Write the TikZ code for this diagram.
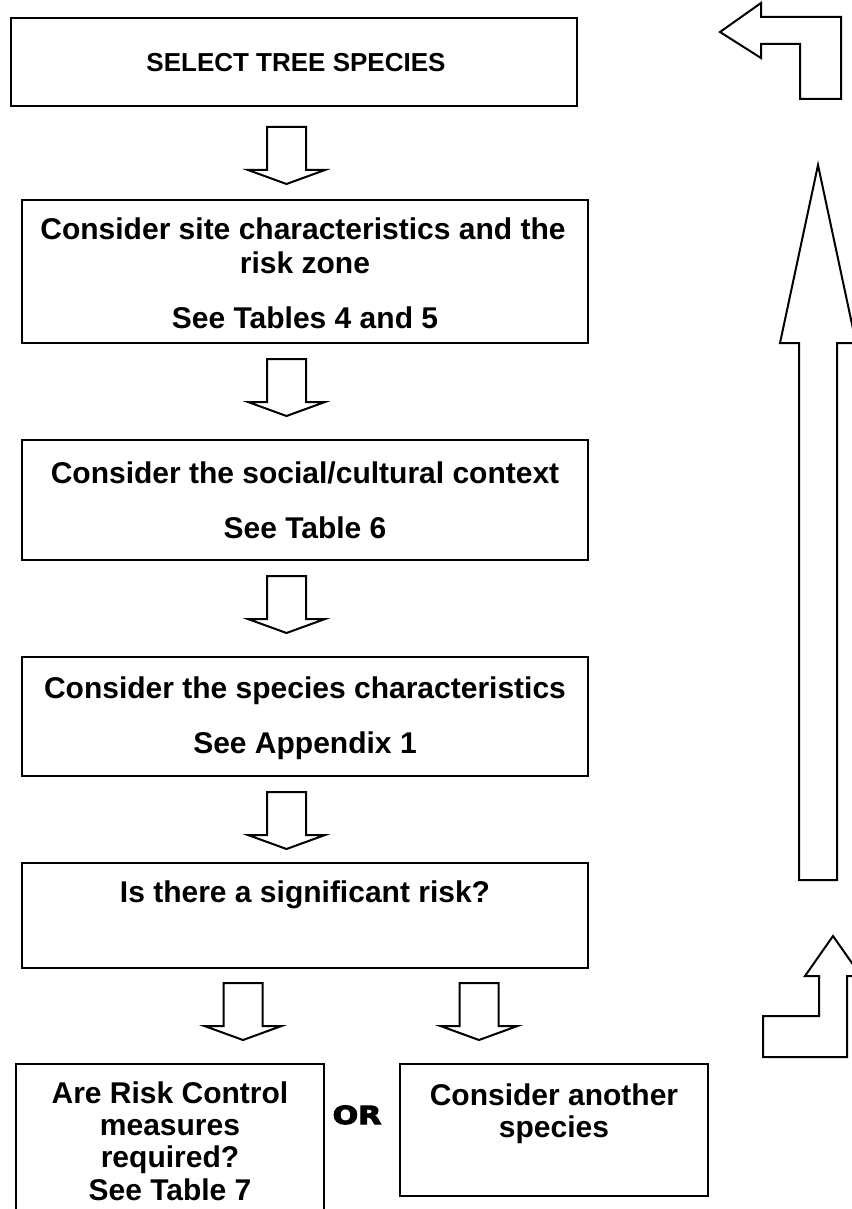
\documentclass[tikz,border=0pt]{standalone}
\usepackage{fontspec}
\setmainfont{Liberation Sans}
\newfontfamily\orfont[FakeBold=4]{DejaVu Sans Bold}
\begin{document}
\begin{tikzpicture}[x=1pt,y=-1pt,line join=miter,
  box/.style={draw=black,line width=2pt,fill=none},
  txt/.style={inner sep=0pt,font=\fontsize{30}{34}\selectfont\bfseries,text height=21.5pt,text depth=0pt,anchor=center},
  blockarrow/.style={draw=black,line width=2pt,fill=white},
  downarrow/.pic={\draw[blockarrow] (-19.5,0) -- (19.5,0) -- (19.5,43) -- (38.5,43) -- (0,57) -- (-38.5,43) -- (-19.5,43) -- cycle;}
]
\useasboundingbox (0,0) rectangle (851,1209);

% boxes
\draw[box] (11,18) rectangle (577,106);
\node[txt,font=\fontsize{26}{30}\selectfont\bfseries,text height=18.6pt] (b1) at (296,62) {SELECT TREE SPECIES};

\draw[box] (22,200) rectangle (588,343);
\node[txt] (t2a) at (303,229) {Consider site characteristics and the};
\node[txt] (t2b) at (305,263) {risk zone};
\node[txt] (t2c) at (305,318) {See Tables 4 and 5};

\draw[box] (22,440) rectangle (588,560);
\node[txt] (t3a) at (305,473) {Consider the social/cultural context};
\node[txt] (t3b) at (305,528) {See Table 6};

\draw[box] (22,657) rectangle (588,776);
\node[txt] (t4a) at (305,688) {Consider the species characteristics};
\node[txt] (t4b) at (305,743) {See Appendix 1};

\draw[box] (22,863) rectangle (588,968);
\node[txt] (t5a) at (305,892) {Is there a significant risk?};

\draw[box] (16,1214) -- (16,1064) -- (324,1064) -- (324,1214);
\node[txt] (t6a) at (170,1093) {Are Risk Control};
\node[txt] (t6b) at (170,1125) {measures};
\node[txt] (t6c) at (170,1157) {required?};
\node[txt] (t6d) at (170,1190) {See Table 7};

\draw[box] (400,1064) rectangle (708,1196);
\node[txt] (t7a) at (554,1095) {Consider another};
\node[txt] (t7b) at (554,1127) {species};

\node[inner sep=0pt,font=\fontsize{25}{28}\orfont,text height=18pt,text depth=0pt,xscale=1.2,transform shape] (or) at (357,1115) {OR};

% down block arrows
\pic at (286.5,127) {downarrow};
\pic at (286.5,359) {downarrow};
\pic at (286.5,576) {downarrow};
\pic at (286.5,792) {downarrow};
\pic at (243,983) {downarrow};
\pic at (479,983) {downarrow};

% right side: top L arrow pointing left
\draw[blockarrow] (720,32) -- (761,3) -- (761,17) -- (841,17) -- (841,99) -- (800,99) -- (800,44) -- (761,44) -- (761,58) -- cycle;

% tall up arrow
\draw[blockarrow] (818,165) -- (856,343) -- (837,343) -- (837,880) -- (799,880) -- (799,343) -- (780,343) -- cycle;

% bottom L arrow pointing up
\draw[blockarrow] (833,936) -- (861,976) -- (847,976) -- (847,1057) -- (763,1057) -- (763,1016) -- (819,1016) -- (819,976) -- (805,976) -- cycle;
\end{tikzpicture}
\end{document}
